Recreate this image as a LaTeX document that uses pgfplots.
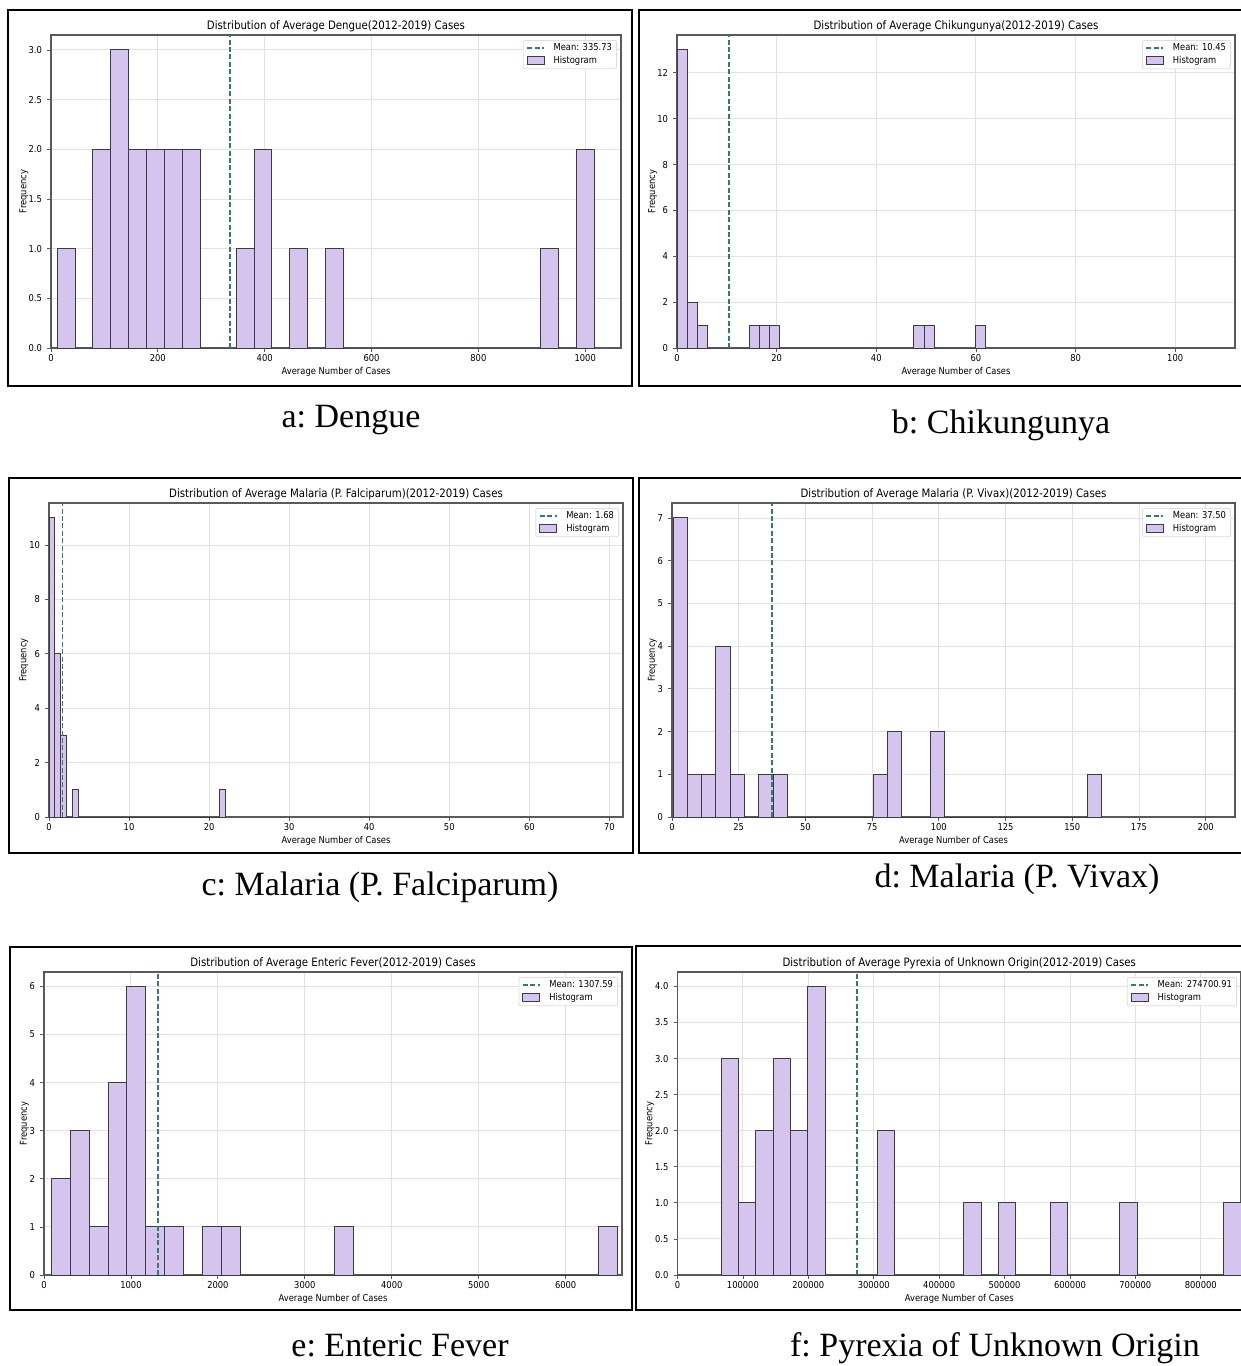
\documentclass[border=0pt]{standalone}
\usepackage{pgfplots}
\pgfplotsset{compat=1.18}
\usepackage{fontspec}
\newfontfamily\chartfont{DejaVu Sans}[FakeStretch=0.88]
\newfontfamily\capfont{Liberation Serif}
\definecolor{barfill}{RGB}{213,197,238}
\definecolor{baredge}{RGB}{60,58,70}
\definecolor{meancol}{RGB}{47,125,110}
\definecolor{gridcol}{RGB}{226,226,226}
\definecolor{spine}{RGB}{90,90,90}
\definecolor{legframe}{RGB}{222,222,222}
\newcommand{\tickfont}{\chartfont\fontsize{4.75}{5.5}\selectfont}
\newcommand{\titlefont}{\chartfont\fontsize{5.8}{6.5}\selectfont}
\newcommand{\capf}{\capfont\fontsize{17}{20}\selectfont\frenchspacing}

\pgfplotsset{
 panel/.style={
  scale only axis,
  anchor=south west,
  xmin=0, ymin=0,
  axis line style={spine, line width=0.6pt},
  tick align=outside, tick pos=left,
  major tick length=2pt,
  every tick/.style={spine, line width=0.4pt},
  grid=major,
  grid style={gridcol, line width=0.45pt},
  tick label style={font=\tickfont},
  /pgf/number format/assume math mode=true,
  scaled x ticks=false, scaled y ticks=false,
  xticklabel style={/pgf/number format/fixed, /pgf/number format/1000 sep={}, yshift=2.5pt},
  yticklabel style={xshift=1pt},
  label style={font=\tickfont},
  xlabel={Average Number of Cases},
  ylabel={Frequency},
  xlabel style={at={(0.5,0)}, anchor=base, yshift=-13pt},
  ylabel style={at={(0,0.5)}, anchor=center},
  title style={font=\titlefont, at={(0.5,1)}, anchor=base, yshift=-3pt, inner sep=0pt},
  legend style={font=\tickfont, at={(1,1)}, anchor=north east, xshift=-2pt, yshift=-2.5pt,
    draw=legframe, rounded corners=1pt, inner xsep=1.5pt, inner ysep=1pt, row sep=0.4pt,
    column sep=3.5pt,
    nodes={inner sep=0.8pt, text height=3.4pt, text depth=0.9pt}},
  legend cell align=left,
  reverse legend,
 },
 onedec/.style={yticklabel style={/pgf/number format/fixed, /pgf/number format/fixed zerofill, /pgf/number format/precision=1}},
 hist/.style={ybar interval, fill=barfill, draw=baredge, line width=0.5pt,
   legend image code/.code={\draw[##1, sharp corners] (0pt,-2pt) rectangle (8.5pt,2pt);}},
 meanline/.style={meancol, line width=0.9pt, dash pattern=on 2.5pt off 1.2pt,
   legend image code/.code={\draw[##1, sharp corners] (0pt,0pt) -- (8.5pt,0pt);}},
}

\begin{document}
\begin{tikzpicture}
\useasboundingbox (0,0) rectangle (620.5pt,-683pt);

% a: Dengue
\begin{axis}[panel, at={(25.5pt,-174pt)}, width=285pt, height=156.5pt,
  xmax=1067, ymax=3.15, xtick={0,200,400,600,800,1000}, ytick={0,0.5,1,1.5,2,2.5,3}, onedec,
  ylabel style={yshift=13.6pt},
  title={Distribution of Average Dengue(2012-2019) Cases}]
\addplot[hist] coordinates {(11.5,1) (45,0) (78.5,2) (112,3) (145.5,2) (179,2) (212.5,2) (246,2) (279.5,0) (346.5,1) (380,2) (413.5,0) (447,1) (480.5,0) (514,1) (547.5,0) (916,1) (949.5,0) (983,2) (1016.5,0)};
\addlegendentry{Histogram}
\addplot[meanline] coordinates {(335.73,0) (335.73,3.15)};
\addlegendentry{Mean: 335.73}
\end{axis}

% b: Chikungunya
\begin{axis}[panel, at={(338.5pt,-174pt)}, width=279pt, height=156.5pt,
  xmax=112, ymax=13.65, xtick={0,20,40,60,80,100}, ytick={0,2,4,6,8,10,12},
  ylabel style={yshift=12.2pt},
  title={Distribution of Average Chikungunya(2012-2019) Cases}]
\addplot[hist] coordinates {(0,13) (2.067,2) (4.133,1) (6.2,0) (14.467,1) (16.533,1) (18.6,1) (20.667,0) (47.533,1) (49.6,1) (51.667,0) (59.933,1) (62,0)};
\addlegendentry{Histogram}
\addplot[meanline] coordinates {(10.45,0) (10.45,13.65)};
\addlegendentry{Mean: 10.45}
\end{axis}

% c: Malaria falciparum
\begin{axis}[panel, at={(24.5pt,-408.5pt)}, width=287pt, height=157pt,
  xmax=71.7, ymax=11.55, xtick={0,10,20,30,40,50,60,70}, ytick={0,2,4,6,8,10},
  ylabel style={yshift=12.5pt},
  title={Distribution of Average Malaria (P. Falciparum)(2012-2019) Cases}]
\addplot[hist] coordinates {(0,11) (0.733,6) (1.467,3) (2.2,0) (2.933,1) (3.667,0) (21.267,1) (22,0)};
\addlegendentry{Histogram}
\addplot[meanline] coordinates {(1.68,0) (1.68,11.55)};
\addlegendentry{Mean: 1.68}
\end{axis}

% d: Malaria vivax
\begin{axis}[panel, at={(336pt,-408.5pt)}, width=281.5pt, height=157pt,
  xmax=211, ymax=7.35, xtick={0,25,50,75,100,125,150,175,200}, ytick={0,1,2,3,4,5,6,7},
  ylabel style={yshift=9.8pt},
  title={Distribution of Average Malaria (P. Vivax)(2012-2019) Cases}]
\addplot[hist] coordinates {(0.4,7) (5.757,1) (11.113,1) (16.47,4) (21.827,1) (27.183,0) (32.54,1) (37.897,1) (43.253,0) (75.393,1) (80.75,2) (86.107,0) (96.82,2) (102.177,0) (155.743,1) (161.1,0)};
\addlegendentry{Histogram}
\addplot[meanline] coordinates {(37.50,0) (37.50,7.35)};
\addlegendentry{Mean: 37.50}
\end{axis}

% e: Enteric fever
\begin{axis}[panel, at={(22pt,-637.5pt)}, width=289pt, height=151.5pt,
  xmax=6648, ymax=6.3, xtick={0,1000,2000,3000,4000,5000,6000}, ytick={0,1,2,3,4,5,6},
  ylabel style={yshift=9.8pt},
  title={Distribution of Average Enteric Fever(2012-2019) Cases}]
\addplot[hist] coordinates {(85,2) (302.2,3) (519.3,1) (736.5,4) (953.7,6) (1170.8,1) (1388,1) (1605.2,0) (1822.3,1) (2039.5,1) (2256.7,0) (3342.5,1) (3559.7,0) (6382.8,1) (6600,0)};
\addlegendentry{Histogram}
\addplot[meanline] coordinates {(1307.59,0) (1307.59,6.3)};
\addlegendentry{Mean: 1307.59}
\end{axis}

% f: Pyrexia of unknown origin
\begin{axis}[panel, at={(338.75pt,-637.5pt)}, width=281.75pt, height=151.5pt,
  xmax=861500, ymax=4.2, xtick={0,100000,200000,300000,400000,500000,600000,700000,800000},
  ytick={0,0.5,1,1.5,2,2.5,3,3.5,4}, onedec,
  ylabel style={yshift=13.8pt},
  title={Distribution of Average Pyrexia of Unknown Origin(2012-2019) Cases}]
\addplot[hist] coordinates {(66700,3) (93193,1) (119686,2) (146179,3) (172672,2) (199165,4) (225658,0) (305137,2) (331630,0) (437602,1) (464095,0) (490588,1) (517081,0) (570067,1) (596560,0) (676039,1) (702532,0) (835000,1) (861500,0)};
\addlegendentry{Histogram}
\addplot[meanline] coordinates {(274700.91,0) (274700.91,4.2)};
\addlegendentry{Mean: 274700.91}
\end{axis}

% panel frames
\draw[line width=1pt] (4pt,-5pt) rectangle (316pt,-193pt);
\draw[line width=1pt] (319.3pt,-5pt) rectangle (625pt,-193pt);
\draw[line width=1pt] (4.5pt,-239pt) rectangle (316.5pt,-426.5pt);
\draw[line width=1pt] (319.3pt,-239pt) rectangle (625pt,-426.5pt);
\draw[line width=1pt] (5pt,-473.5pt) rectangle (316pt,-655pt);
\draw[line width=1pt] (318pt,-473pt) rectangle (625pt,-655pt);

% captions
\node[anchor=base, font=\capf, inner sep=0pt] at (175.5pt,-213.5pt) {a: Dengue};
\node[anchor=base, font=\capf, inner sep=0pt] at (500.5pt,-216.5pt) {b: Chikungunya};
\node[anchor=base, font=\capf, inner sep=0pt] at (190pt,-447.5pt) {c: Malaria (P. Falciparum)};
\node[anchor=base, font=\capf, inner sep=0pt] at (508.5pt,-443.5pt) {d: Malaria (P. Vivax)};
\node[anchor=base, font=\capf, inner sep=0pt] at (200pt,-678pt) {e: Enteric Fever};
\node[anchor=base, font=\capf, inner sep=0pt] at (497.5pt,-678pt) {f: Pyrexia of Unknown Origin};
\end{tikzpicture}
\end{document}
